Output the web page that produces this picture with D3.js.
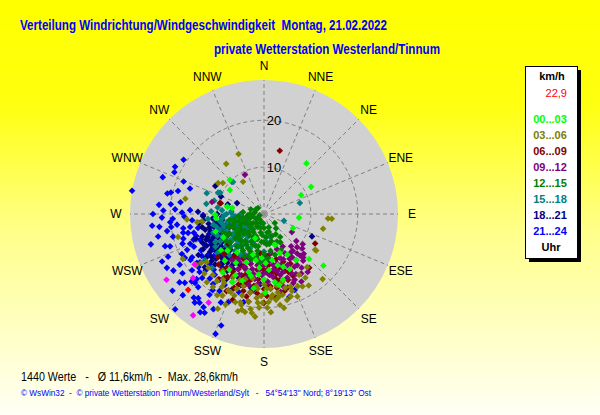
<!DOCTYPE html>
<html>
<head>
<meta charset="utf-8">
<script src="https://cdn.jsdelivr.net/npm/d3@7"></script>
<style>
  html, body { margin: 0; padding: 0; }
  svg { display: block; font-family: "Liberation Sans", Arial, sans-serif; }
  text { white-space: pre; }
</style>
</head>
<body>
<svg id="windchart" width="600" height="415"></svg>
<script>

// Data: [direction in degrees, speed in km/h], one list per 3-hour band
const compass = ["N","NNE","NE","ENE","E","ESE","SE","SSE","S","SSW","SW","WSW","W","WNW","NW","NNW"];
const rings = [10, 20];
const maxSpeed = 28.6;
const currentSpeed = 22.9;
const currentPoint = [225, 22.9];
const hourBands = ["00...03","03...06","06...09","09...12","12...15","15...18","18...21","21...24"];

const s0003 = [[281,6.9],[269,10.4],[200,5.5],[160,7.0],[183,9.4],[195,12.8],[205,14.4],[165,11.3],[164,14.6],[179,16.8],
  [171,14.7],[116,6.9],[215,15.3],[188,16],[190,10],[200,11],[210,12],[175,12],[170,10],[185,13],[195,9],
  [215,10],[225,11],[180,14],[160,12],[150,10],[155,13],[145,12],[220,13],[230,12],[240,10],[250,11],
  [198,15],[168,15.5],[185,11.5],[212,14],[158,9],[178,10.5],[192,13.5],[205,16],
  [40,14.1],[60,11.6],[63,8.9],[96,7.5],[135,13.6],[131,16.8],[315,10.3],[305,8.9],[281,8],[265,10.3]];
const s0306 = [[206,22.5],[203,18.1],[198,19.8],[194,20.0],[191,21.3],[187,21.3],[184,19.0],[181,19.0],[177,18.8],[170,19.7],
  [174,17.4],[167,17.7],[164,16.4],[147,16.2],[138,18.7],[141,14.6],[125,13.3],[104,13.0],[94,13.7],[94,14.5],[125,13.6],
  [180,15],[185,16],[190,17],[195,18],[200,17],[205,16],[210,18],[175,16],[170,17],[165,15],[160,16.5],[155,17],[150,15],
  [190,14],[200,15],[210,20],[215,19],[188,20.5],[178,20],[172,18.5],[196,16],[182,17.5],[162,18.5],[220,17],[225,18],
  [230,16],[212,16.5],[195,21.5],[185,22],[207,19.5],
  [160,17.5],[165,19],[170,18],[175,18],[180,17],[185,18],[190,19],[195,19.5],[200,18.5],[205,18],[210,17],[215,17.5],
  [220,19],[183,20],[193,21],[203,21],[176,21],[168,20.5],[158,19],[152,17.5],[148,18],[186,15.5],[196,14.5],[206,15],
  [216,15],[226,16.5],[232,17],[178,16],[170,15.5],
  [337,13.9],[323,13.4],[304,11.8],[307,11.0],[327,8.2],[281,17.1],[266,16.5],[255,19],[263,13.3],[241,19.8],[233,18.1],[263,14.4]];
const s0609 = [[150,11],[155,12],[160,13],[165,12],[170,14],[175,13],[180,12],[185,14],[190,13],[195,15],[200,14],[205,13],
  [210,12],[215,14],[160,15],[170,16],[180,16],[190,17],[200,16],[165,10],[175,11],[185,10],[195,11],[205,10.5],[210,15.5],
  [220,13],[155,14.5],[178,17.5],[188,15.5],[198,12.5],[168,13],[158,11],[215,11],[225,12],[230,10],[192,18],[172,18],
  [182,11.5],[162,16.5],[202,17],[208,14],[185,8.5],[195,9],[175,9],[240,9],[250,8],[206,18.3],[195,15.7],[155,13.2],
  [152,12],[157,13.5],[162,12],[167,14.5],[172,12.5],[177,14.5],[182,13],[187,12],[192,14.5],[197,13.5],[202,12],
  [207,14.5],[212,16],[217,15],[222,14.5],[227,13.5],[185,17],[195,17],[205,18],[175,15.5],[165,17],[180,19],[190,19],
  [200,19.5],[215,17],[197,10],[187,11],[177,12],[167,11.5],
  [14,13.9],[284,9.7],[284,9.5],[120,12.6],[140,15]];
const s0912 = [[140,9],[145,10],[150,11],[155,12],[160,10],[165,11],[170,12],[175,13],[180,11],[185,12],[190,13],[195,14],
  [150,13],[155,14],[160,14.5],[165,13.5],[170,15],[175,10],[180,9],[185,10],[190,9.5],[145,12],[140,11],[135,10],[130,9],
  [150,8],[160,8],[170,8.5],[180,14],[185,15],[195,11],[200,12],[205,13],[155,15.5],[165,16],[145,14],[140,13],[175,16],
  [160,12],[170,11],[148,15],[138,12.5],[178,12.5],[188,14],[198,10],[210,11],[215,12],[220,13],
  [142,10],[147,11],[152,9.5],[157,10.5],[162,11.5],[167,12.5],[172,13.5],[177,14.5],[182,13],[187,11],[192,12],
  [197,12.5],[202,14],[207,11.5],[147,13],[152,14.5],[157,16],[162,13],[172,10],[182,10],[192,15.5],[202,10],[135,12],
  [132,11],[128,10.5],[143,15.5],[168,17],[178,15],[188,16.5],[212,13.5],
  [139,11.8],[151,16.5],[334,9.3],[283,11.4],[123,7.1]];
const s1215 = [[200,2],[210,3],[220,2.5],[230,3],[240,2],[250,3.5],[260,2.5],[190,4],[200,5],[210,4.5],[220,5],[230,5.5],
  [240,4],[250,5],[260,4.5],[270,3],[180,3],[170,4],[165,6],[175,6.5],[185,6],[195,7],[205,6.5],[215,7],[225,7.5],[235,6],
  [245,7],[255,6.5],[265,5.5],[160,7],[170,8],[180,8.5],[190,8],[200,8.5],[210,9],[220,9],[230,8],[240,8.5],[250,8],
  [150,5],[140,4],[185,2],[215,1.5],[235,1.5],[255,1],[280,2],[290,3],[300,2],[315,1.8],[275,4.5],[205,10],[195,10],
  [185,10.5],[175,9.5],[165,9],[155,8.5],[225,10.5],[235,10],[160,3],[130,3],[245,9.5],
  [205,3],[215,4],[225,4],[235,3.5],[245,4.5],[255,3],[265,3.5],[195,5.5],[205,5.5],[215,5.5],[225,6],[235,7],[245,5.5],
  [255,5.5],[185,4.5],[175,5],[165,4],[195,3],[180,6],[190,7],[200,7],[210,7.5],[220,7.5],[230,7],[240,6.5],[250,7],
  [260,6.5],[170,6.5],[160,5],[155,6.5],[150,7],[145,6],[205,8],[215,8.5],[190,9],[180,10],[200,9.5],[230,9.5],[240,9],[260,7.5]];
const s1518 = [[265,6],[262,7],[258,8],[255,7],[250,6],[248,8],[245,9],[240,7],[237,8],[235,6],[232,9],[228,8],[225,7],
  [222,9],[218,8],[215,6],[212,7],[210,9],[205,8],[200,6],[195,7],[250,10],[255,10.5],[260,9.5],[268,8.5],[272,7],[275,9],
  [278,10],[282,8],[285,11],[242,10],[238,11],[230,10.5],[225,11],[218,10],[258,5],[248,4],[236,4.5],[228,5],[262,3.5],
  [270,5],[244,6.5],[252,9],[232,7],[220,5.5],[190,9],[180,8],[175,6],[165,5],[240,12],[230,13],[265,12],[280,12.5],
  [290,13],[224,16],[232,16],
  [260,7],[256,9],[252,8],[246,7],[242,8.5],[238,9.5],[234,8],[230,9],[226,10],[222,8],[218,9],[214,8],[210,10],[206,9.5],
  [202,8],[245,11],[250,11.5],[258,11],[264,9],[270,8],[275,7],[247,5.5],[239,5.5],[231,6],[225,5],[255,4.5],[266,6.5],
  [214,11],[220,11.5],[236,12.5],
  [315,9.7],[295,10.8],[73,8.0],[109,4.5],[296,10.4],[273,11.3],[316,9.5]];
const s1821 = [[262,9],[258,10],[255,11],[252,12],[248,13],[245,12],[242,11],[240,13],[238,12],[235,14],[232,13],[230,12],
  [228,11],[235,10],[240,9],[245,10],[250,9],[255,8],[260,12],[265,11],[268,13],[270,10],[250,14],[245,14.5],[240,15],
  [233,15.5],[228,15],[225,13],[222,12],[220,14],[218,12],[215,15],[212,13],[210,16],[236,8],[244,7],[252,7],[258,13.5],
  [262,14],[266,9],[230,9.5],[226,10],[247,11.5],[238,10.5],[243,12.5],[233,11.5],[255,13],[205,12],[200,14],[195,13],
  [190,16],[183,15],
  [256,12],[253,10],[249,11],[246,13.5],[241,14],[237,13],[234,12.5],[231,14.5],[227,14],[224,15],[221,13.5],[217,13],
  [213,14.5],[209,13.5],[207,15],[203,14.5],[211,12],[216,11],[223,10.5],[229,12.5],[236,11],[242,8.5],[248,9.5],[254,9],
  [260,10.5],[264,13],[250,15.5],[238,16.5],[228,17],[198,16],[203,17.5],[192,14],
  [292,9.9],[292,6.2],[115,11.3],[300,12],[285,8],[272,14.1]];
const s2124 = [[304,20.7],[298,21.5],[295,21.1],[289,16.7],[282,21.1],[283,20.4],[280,28.6],[270,23.7],[272,21.5],[268,21.8],
  [264,24.0],[263,22.5],[265,20.1],[273,19.0],[271,17.5],[257,17.7],[256,20.0],[250,18.5],[256,16.7],[246,22.4],[251,21.2],
  [245,18.1],[239,17.9],[234,17.7],[252,22.2],[241,23.7],[238,22.8],[239,21.0],[234,21.5],[231,23.2],[229,22.4],[227,21.1],
  [225,20.8],[220,23.3],[218,22.8],[218,24.0],[216,23.4],[213,23.7],[213,25.0],[211,24.6],[214,20.8],[223,27.8],[201,25.5],
  [202,27.6],[258,14.4],[248,14.7],[242,14.2],[234,14.8],[233,17.1],[227,15.8],[226,17.3],[219,16.7],[214,16.9],[209,17.3],
  [214,19.6],[265,15.4],[273,15.8],[269,13.0],[252,15.2],[241,19.3],[263,18.7],[258,23.1],[193,19.3],[198,17.5],[202,20.3],
  [163,18.5],[158,17.5],
  [260,16],[255,15.5],[250,16],[245,16.5],[240,15.5],[236,16],[231,18],[228,18.5],[224,19],[220,18],[216,18.5],[222,21],
  [226,20],[232,19.5],[238,18.5],[244,19.5],[248,17],[253,18],[260,17.5],[262,20],[268,17],[267,19.5],[276,20],[278,18],
  [285,19],[230,14],[236,13.5],[244,13],[250,12.5],[222,16],[218,14.5],[210,19],[206,21],[208,23],[225,24.5],[230,25.5],
  [245,24],[255,25],[260,21],[275,22.5],[290,23],[292,18.5]];
const recentPoints = [[236,25.1],[228,20.4],[212,22.3],[215,26.4],[234,18.3]];

const seriesData = [s0003, s0306, s0609, s0912, s1215, s1518, s1821, s2124];
const seriesColours = ["#00ff00","#808000","#800000","#800080","#008000","#008080","#000080","#0000ff"];
// Band indices from bottom layer to top layer
const drawOrder = [7, 6, 5, 2, 3, 4, 1, 0];

// Canvas
const svg = d3.select("#windchart");
const centre = {x: 264, y: 214};
const outerRadius = 134;

// Background gradient
const defs = svg.append("defs");
const grad = defs.append("linearGradient")
    .attr("id", "bg")
    .attr("x1", 0).attr("y1", 0).attr("x2", 0).attr("y2", 1);
grad.append("stop").attr("offset", "0%").attr("stop-color", "#ffff00");
grad.append("stop").attr("offset", "25%").attr("stop-color", "#ffff10");
grad.append("stop").attr("offset", "55%").attr("stop-color", "#ffff88");
grad.append("stop").attr("offset", "100%").attr("stop-color", "#fffff6");
svg.append("rect")
    .attr("width", 600).attr("height", 415)
    .attr("fill", "url(#bg)");

// Titles
svg.append("text")
    .attr("x", 20).attr("y", 30)
    .attr("textLength", 367).attr("lengthAdjust", "spacingAndGlyphs")
    .style("font-size", "14px").style("font-weight", "bold")
    .attr("fill", "#0000ff")
    .text("Verteilung Windrichtung/Windgeschwindigkeit  Montag, 21.02.2022");
svg.append("text")
    .attr("x", 214).attr("y", 54)
    .attr("textLength", 226).attr("lengthAdjust", "spacingAndGlyphs")
    .style("font-size", "14px").style("font-weight", "bold")
    .attr("fill", "#0000ff")
    .text("private Wetterstation Westerland/Tinnum");

// Scales
const r = d3.scaleLinear().domain([0, maxSpeed]).range([0, outerRadius]);
const angle = d3.scaleLinear().domain([0, 360]).range([0, 2 * Math.PI]);

const chart = svg.append("g")
    .attr("transform", `translate(${centre.x}, ${centre.y})`);

// Plot area
chart.append("circle")
    .attr("r", r(maxSpeed))
    .attr("fill", "#d1d1d1");

// Grid: rings and spokes
chart.selectAll(".ring")
    .data(rings)
    .enter()
    .append("circle")
    .classed("ring", true)
    .attr("r", (d) => r(d))
    .attr("fill", "none")
    .attr("stroke", "#808080")
    .attr("stroke-dasharray", "4,3");
chart.selectAll(".spoke")
    .data(compass)
    .enter()
    .append("line")
    .classed("spoke", true)
    .attr("x1", 0).attr("y1", 0)
    .attr("x2", (d, i) => d3.pointRadial(angle(i * 22.5), r(maxSpeed))[0])
    .attr("y2", (d, i) => d3.pointRadial(angle(i * 22.5), r(maxSpeed))[1])
    .attr("stroke", "#808080")
    .attr("stroke-dasharray", "4,3");
chart.append("rect")
    .attr("x", -2).attr("y", -2).attr("width", 4).attr("height", 4)
    .attr("fill", "#909090");

// Ring labels
chart.selectAll(".ringLabel")
    .data(rings)
    .enter()
    .append("text")
    .classed("ringLabel", true)
    .attr("x", 10)
    .attr("y", (d) => -r(d))
    .attr("dy", "0.35em")
    .style("font-size", "13px")
    .style("text-anchor", "middle")
    .text((d) => d);

// Compass labels
chart.selectAll(".dirLabel")
    .data(compass)
    .enter()
    .append("text")
    .classed("dirLabel", true)
    .attr("x", (d, i) => d3.pointRadial(angle(i * 22.5), outerRadius + 14)[0])
    .attr("y", (d, i) => d3.pointRadial(angle(i * 22.5), outerRadius + 14)[1])
    .attr("dy", "0.35em")
    .style("font-size", "12px")
    .style("text-anchor", "middle")
    .text((d) => d);

// Points
const marker = d3.symbol().type(d3.symbolDiamond2 || d3.symbolDiamond).size(28);
const plotPoints = (data, colour) => {
    chart.append("g")
        .selectAll("path")
        .data(data)
        .enter()
        .append("path")
        .attr("d", marker)
        .attr("transform", (d) => {
            const p = d3.pointRadial(angle(d[0]), r(d[1]));
            return `translate(${p[0]}, ${p[1]})`;
        })
        .attr("fill", colour);
};
drawOrder.forEach((i) => plotPoints(seriesData[i], seriesColours[i]));
plotPoints(recentPoints, "#ff00ff");
plotPoints([currentPoint], "#ff0000");

// Legend
const legend = svg.append("g").attr("transform", "translate(525, 66)");
legend.append("rect")
    .attr("x", 4).attr("y", 4).attr("width", 52).attr("height", 192)
    .attr("fill", "#000");
legend.append("rect")
    .attr("x", 0.5).attr("y", 0.5).attr("width", 52).attr("height", 192)
    .attr("fill", "#fff").attr("stroke", "#000");
legend.append("text")
    .attr("x", 27).attr("y", 14)
    .style("font-size", "11px").style("font-weight", "bold")
    .style("text-anchor", "middle")
    .text("km/h");
legend.append("text")
    .attr("x", 42).attr("y", 31)
    .style("font-size", "11px")
    .style("text-anchor", "end")
    .attr("fill", "#ff0000")
    .text(String(currentSpeed).replace(".", ","));
legend.selectAll(".band")
    .data(hourBands)
    .enter()
    .append("text")
    .classed("band", true)
    .attr("x", 25)
    .attr("y", (d, i) => 53 + i * 16)
    .attr("dy", "0.35em")
    .style("font-size", "11px").style("font-weight", "bold")
    .style("text-anchor", "middle")
    .attr("fill", (d, i) => seriesColours[i])
    .text((d) => d);
legend.append("text")
    .attr("x", 26).attr("y", 181)
    .attr("dy", "0.35em")
    .style("font-size", "11px").style("font-weight", "bold")
    .style("text-anchor", "middle")
    .text("Uhr");

// Footer
svg.append("text")
    .attr("x", 21).attr("y", 381)
    .attr("textLength", 217).attr("lengthAdjust", "spacingAndGlyphs")
    .style("font-size", "12px")
    .text("1440 Werte   -   Ø 11,6km/h  -  Max. 28,6km/h");
svg.append("text")
    .attr("x", 21).attr("y", 396)
    .attr("textLength", 350).attr("lengthAdjust", "spacingAndGlyphs")
    .style("font-size", "9px")
    .attr("fill", "#0000ff")
    .text("© WsWin32  -  © private Wetterstation Tinnum/Westerland/Sylt   -   54°54'13\" Nord; 8°19'13\" Ost");

</script>
</body>
</html>
